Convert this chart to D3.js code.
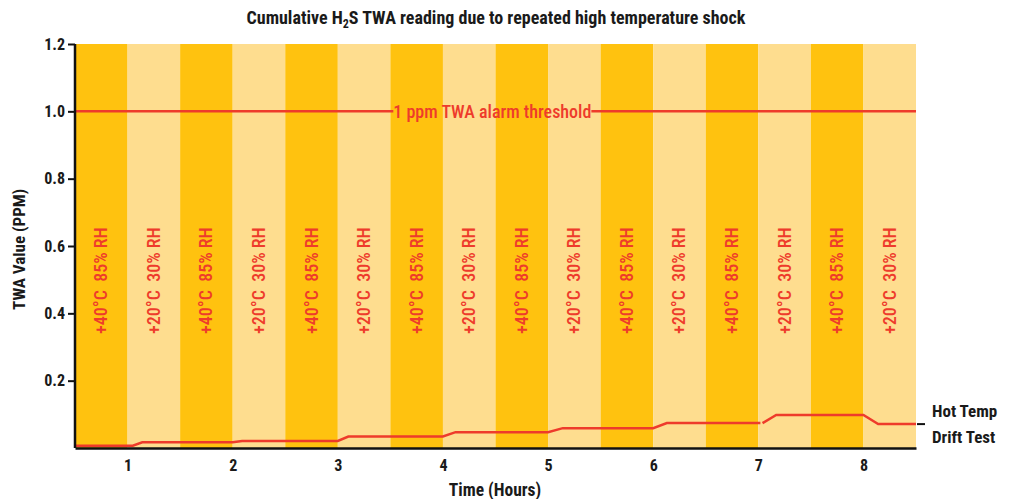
<!DOCTYPE html>
<html>
<head>
<meta charset="utf-8">
<script src="https://cdnjs.cloudflare.com/ajax/libs/d3/7.8.5/d3.min.js"></script>
<style>
  body { margin: 0; background: #fff; }
  text { font-family: "Liberation Sans Narrow", "Roboto Condensed", "Liberation Sans", sans-serif; }
</style>
</head>
<body>
<div id="plot"></div>
<script>
// chart data
const bandStarts = [0.5, 1.0, 1.5, 2.0, 2.5, 3.0, 3.5, 4.0, 4.5, 5.0, 5.5, 6.0, 6.5, 7.0, 7.5, 8.0];
const bandKinds = ["hot", "cool", "hot", "cool", "hot", "cool", "hot", "cool",
                   "hot", "cool", "hot", "cool", "hot", "cool", "hot", "cool"];
const bandLabels = { hot: "+40°C  85% RH", cool: "+20°C  30% RH" };

const driftTime = [0.5, 1.05, 1.14, 2.0, 2.09, 3.0, 3.1, 4.0, 4.12, 5.0, 5.14, 6.0, 6.13, 7.02, null, 7.04, 7.17, 8.0, 8.14, 8.5];
const driftValue = [0.007, 0.007, 0.017, 0.017, 0.021, 0.021, 0.034, 0.034, 0.047, 0.047, 0.059, 0.059, 0.074, 0.074, null, 0.074, 0.098, 0.098, 0.071, 0.071];

const xTicks = [1, 2, 3, 4, 5, 6, 7, 8];
const yTicks = [0.2, 0.4, 0.6, 0.8, 1.0, 1.2];
const threshold = 1.0;

const w = 1014, h = 499;
const margin = { top: 44, right: 98, bottom: 51, left: 75 };
const innerWidth = w - margin.left - margin.right;
const innerHeight = h - margin.top - margin.bottom;

const red = "#ee3b2b";

const svg = d3.select("#plot").append("svg")
    .attr("width", w)
    .attr("height", h);

const g = svg.append("g")
    .attr("transform", `translate(${margin.left},${margin.top})`);

const xScale = d3.scaleLinear().domain([0.5, 8.5]).range([0, innerWidth]);
const yScale = d3.scaleLinear().domain([0, 1.2]).range([innerHeight, 0]);

// background bands
g.selectAll(".band")
  .data(bandStarts)
  .enter().append("rect")
    .attr("class", "band")
    .attr("x", d => xScale(d))
    .attr("y", 0)
    .attr("width", d => xScale(d + 0.5) - xScale(d))
    .attr("height", innerHeight)
    .attr("fill", (d, i) => bandKinds[i] === "hot" ? "#ffc20f" : "#fedd8f");

g.selectAll(".bandLabel")
  .data(bandStarts)
  .enter().append("text")
    .attr("class", "bandLabel")
    .attr("transform", d => `translate(${xScale(d + 0.25) + 6},${yScale(0.497)}) rotate(-90)`)
    .attr("text-anchor", "middle")
    .attr("fill", red)
    .attr("font-size", "18px")
    .attr("font-weight", 500)
    .style("white-space", "pre")
    .text((d, i) => bandLabels[bandKinds[i]]);

// threshold line with label
const thY = yScale(threshold);
const thLabel = g.append("text")
    .attr("x", xScale(4.47))
    .attr("y", thY + 6.5)
    .attr("text-anchor", "middle")
    .attr("fill", red)
    .attr("font-size", "18px")
    .attr("font-weight", 500)
    .text("1 ppm TWA alarm threshold");
const bb = thLabel.node().getBBox();
g.append("line")
    .attr("x1", 0).attr("x2", bb.x)
    .attr("y1", thY).attr("y2", thY)
    .attr("stroke", red).attr("stroke-width", 2.5);
g.append("line")
    .attr("x1", bb.x + bb.width).attr("x2", innerWidth)
    .attr("y1", thY).attr("y2", thY)
    .attr("stroke", red).attr("stroke-width", 2.5);

// drift line
const line = d3.line()
    .defined((d, i) => driftTime[i] !== null)
    .x((d, i) => xScale(driftTime[i]))
    .y(d => yScale(d));

g.append("path")
    .datum(driftValue)
    .attr("d", line)
    .attr("fill", "none")
    .attr("stroke", red)
    .attr("stroke-width", 2.5);

// axes
const xAxis = d3.axisBottom(xScale).tickValues(xTicks).tickSize(0).tickPadding(12).tickFormat(d3.format("d"));
const yAxis = d3.axisLeft(yScale).tickValues(yTicks).tickSize(7).tickPadding(3).tickFormat(d3.format(".1f"));

const gx = g.append("g")
    .attr("transform", `translate(0,${innerHeight})`)
    .call(xAxis);
const gy = g.append("g").call(yAxis);

[gx, gy].forEach(a => {
  a.select(".domain").attr("stroke", "#111").attr("stroke-width", 2.5);
  a.selectAll(".tick line").attr("stroke", "#111").attr("stroke-width", 2);
  a.selectAll(".tick text")
    .attr("fill", "#1a1a1a")
    .attr("font-size", "16px")
    .attr("font-weight", "bold")
    .style("font-family", '"Liberation Sans Narrow", "Roboto Condensed", sans-serif');
});
gy.select(".domain").attr("d", `M0,${innerHeight}V0`);

// legend for the series
const legY = yScale(driftValue[driftValue.length - 1]);
g.append("line")
    .attr("x1", innerWidth + 1).attr("x2", innerWidth + 9)
    .attr("y1", legY).attr("y2", legY)
    .attr("stroke", "#111").attr("stroke-width", 2);
g.append("text")
    .attr("x", innerWidth + 16).attr("y", legY - 7)
    .attr("fill", "#1a1a1a").attr("font-size", "17px").attr("font-weight", "bold")
    .text("Hot Temp");
g.append("text")
    .attr("x", innerWidth + 16).attr("y", legY + 19)
    .attr("fill", "#1a1a1a").attr("font-size", "17px").attr("font-weight", "bold")
    .text("Drift Test");

// titles
const title = svg.append("text")
    .attr("x", 496).attr("y", 24)
    .attr("text-anchor", "middle")
    .attr("fill", "#1a1a1a").attr("font-size", "18px").attr("font-weight", "bold");
title.append("tspan").text("Cumulative H");
title.append("tspan").attr("font-size", "12px").attr("dy", 4).text("2");
title.append("tspan").attr("dy", -4).text("S TWA reading due to repeated high temperature shock");

svg.append("text")
    .attr("x", 495).attr("y", 496)
    .attr("text-anchor", "middle")
    .attr("fill", "#1a1a1a").attr("font-size", "17.5px").attr("font-weight", "bold")
    .text("Time (Hours)");

svg.append("text")
    .attr("transform", `translate(25,${margin.top + yScale(0.59)}) rotate(-90)`)
    .attr("text-anchor", "middle")
    .attr("fill", "#1a1a1a").attr("font-size", "17px").attr("font-weight", "bold")
    .text("TWA Value (PPM)");
</script>
</body>
</html>
